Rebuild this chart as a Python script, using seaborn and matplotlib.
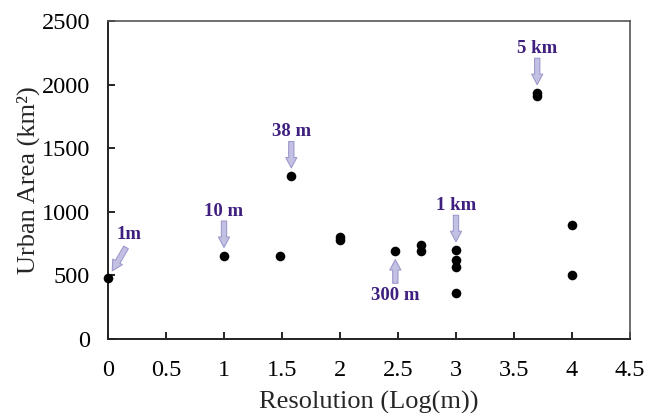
import matplotlib
matplotlib.use("Agg")
import matplotlib.pyplot as plt
import seaborn as sns
import pandas as pd

# Data
resolution_log = [0.0, 1.0, 1.48, 1.58, 2.0, 2.0, 2.477, 2.7, 2.7,
                  3.0, 3.0, 3.0, 3.0, 3.7, 3.7, 4.0, 4.0]
urban_area = [480, 655, 655, 1280, 800, 775, 690, 740, 690,
              700, 620, 565, 365, 1935, 1910, 900, 500]

label_texts = ["1m", "10 m", "38 m", "300 m", "1 km", "5 km"]
label_x = [0.0, 1.0, 1.58, 2.477, 3.0, 3.7]
label_y = [480, 655, 1280, 690, 700, 1935]

x_ticks = [0, 0.5, 1, 1.5, 2, 2.5, 3, 3.5, 4, 4.5]
y_ticks = [0, 500, 1000, 1500, 2000, 2500]

df = pd.DataFrame({"res": resolution_log, "area": urban_area})

sns.set_theme(style="ticks")
plt.rcParams["font.family"] = ["Liberation Serif", "DejaVu Serif"]

fig = plt.figure(figsize=(6.48, 4.13), dpi=100)
ax = fig.add_axes([0.1667, 0.179, 0.8055, 0.770])

sns.scatterplot(data=df, x="res", y="area", ax=ax, color="black",
                s=48, edgecolor="black", linewidth=0, zorder=3, clip_on=False)

ax.set_xlim(0, 4.5)
ax.set_ylim(0, 2500)
ax.set_xticks(x_ticks)
ax.set_xticklabels([f"{t:g}" for t in x_ticks])
ax.set_yticks(y_ticks)
ax.tick_params(axis="both", direction="in", length=5, width=1.2,
               labelsize=17.5, colors="black")
ax.tick_params(axis="x", pad=15)
ax.tick_params(axis="y", pad=13)
ax.set_xlabel("Resolution (Log(m))", fontsize=19, labelpad=7)
ax.set_ylabel("Urban Area (km²)", fontsize=19, labelpad=1)

for side in ["left", "bottom"]:
    ax.spines[side].set_color("#222222")
    ax.spines[side].set_linewidth(1.4)
for side in ["top", "right"]:
    ax.spines[side].set_color("#555555")
    ax.spines[side].set_linewidth(1.2)

# layout: text offset and arrow start offset (points) relative to the target point
offsets = {
    "1m": ((15, 31), (13, 22)),
    "10 m": ((0, 32), (0, 25)),
    "38 m": ((0, 32), (0, 25)),
    "300 m": ((0, -32), (0, -23)),
    "1 km": ((0, 32), (0, 25)),
    "5 km": ((0, 32), (0, 25)),
}

arrow_style = "simple,head_length=0.75,head_width=0.8,tail_width=0.38"

for txt, lx, ly in zip(label_texts, label_x, label_y):
    toff, start = offsets[txt]
    ax.annotate(txt, xy=(lx, ly), xytext=toff, textcoords="offset points",
                ha="center", va="center", fontsize=13.5, fontweight="bold",
                color="#3f1f7f", zorder=5, annotation_clip=False)
    ax.annotate("", xy=(lx, ly), xytext=start, textcoords="offset points",
                arrowprops=dict(arrowstyle=arrow_style, mutation_scale=10,
                                facecolor="#c3c1e3", edgecolor="#9d99cc",
                                linewidth=0.8, shrinkA=0, shrinkB=6),
                zorder=4, annotation_clip=False)

fig.savefig("out.png", dpi=100)
